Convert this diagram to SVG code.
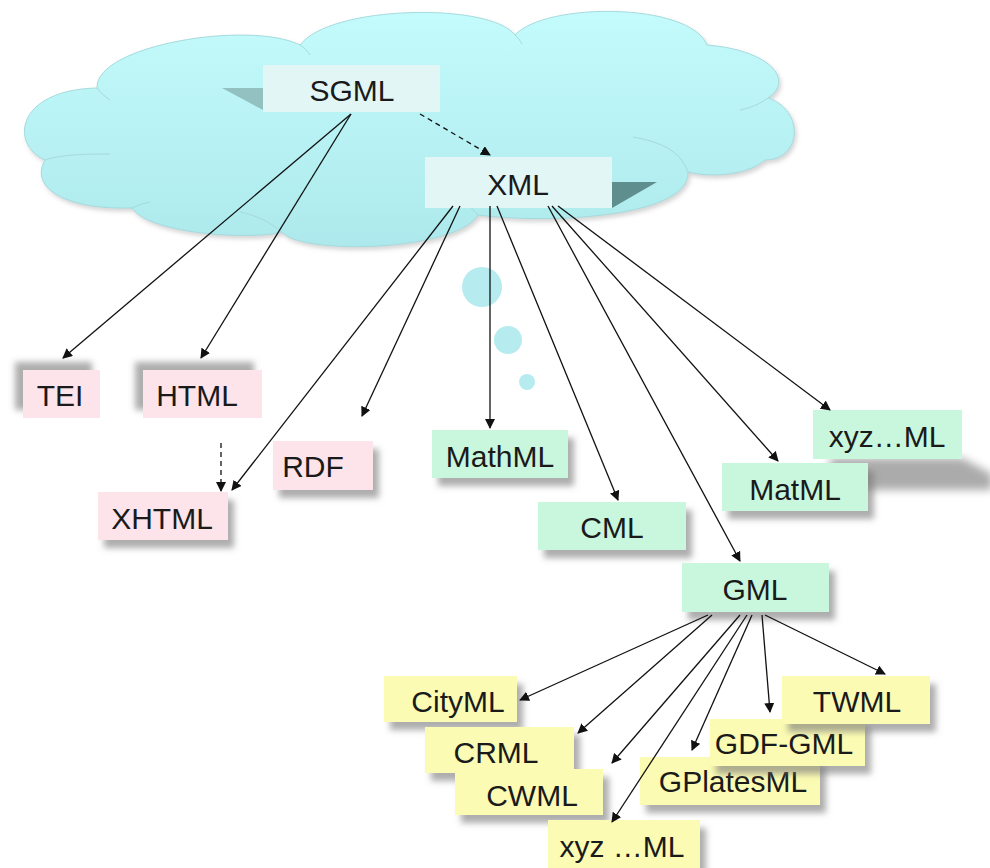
<svg xmlns="http://www.w3.org/2000/svg" width="990" height="868" viewBox="0 0 990 868">
<defs>
<linearGradient id="cg" x1="0" y1="0" x2="0" y2="1">
<stop offset="0" stop-color="#c4fbfc"/>
<stop offset="1" stop-color="#ade9ec"/>
</linearGradient>
<filter id="sh" x="-20%" y="-20%" width="150%" height="160%">
<feDropShadow dx="6" dy="8" stdDeviation="3" flood-color="#777" flood-opacity="0.6"/>
</filter>
<filter id="shul" x="-30%" y="-30%" width="150%" height="160%">
<feDropShadow dx="-8" dy="-8" stdDeviation="3" flood-color="#777" flood-opacity="0.6"/>
</filter>
<filter id="blur" x="-20%" y="-50%" width="140%" height="200%"><feGaussianBlur stdDeviation="4"/></filter>
<filter id="csh" x="-10%" y="-10%" width="120%" height="130%">
<feDropShadow dx="2" dy="3" stdDeviation="2" flood-color="#888" flood-opacity="0.35"/>
</filter>
<marker id="ah" viewBox="0 0 10 10" refX="9" refY="5" markerWidth="10" markerHeight="10" markerUnits="userSpaceOnUse" orient="auto">
<path d="M0,0 L10,5 L0,10 z" fill="#111"/>
</marker>
<style>
text{font-family:"Liberation Sans",Arial,sans-serif;font-size:30px;fill:#1a1a1a;text-anchor:middle;dominant-baseline:central}
.pk{fill:#fce4ea}
.gr{fill:#c9f7dd}
.yl{fill:#fbfbb3}
.cy{fill:#e2f6f6}
.ln{stroke:#111;stroke-width:1.3;fill:none;marker-end:url(#ah)}
.ds{stroke-dasharray:5 4}
.bub{fill:#b6ecef}
</style>
</defs>

<g id="cloud">
<path filter="url(#csh)" fill="url(#cg)" stroke="#a5dadd" stroke-width="1" d="M97,88 C95,45 250,20 300,45 C330,5 490,2 515,35 C545,2 690,2 707,45 C770,50 795,80 768,98 C805,110 802,160 765,160 C748,175 712,178 688,172 C690,215 560,225 478,215 C455,252 300,255 282,232 C255,240 150,235 132,208 C60,210 30,185 45,160 C10,145 15,90 97,88 Z"/>
<path d="M97,88 C100,92 104,96 110,100" fill="none" stroke="#a5dadd"/>
<path d="M300,45 C305,48 308,52 310,55" fill="none" stroke="#a5dadd"/>
<path d="M515,35 C518,38 520,40 522,44" fill="none" stroke="#a5dadd"/>
<path d="M768,98 C760,104 750,108 740,110" fill="none" stroke="#a5dadd"/>
<path d="M688,172 C680,150 660,142 633,137" fill="none" stroke="#a5dadd"/>
<path d="M478,215 C470,205 460,200 450,198" fill="none" stroke="#a5dadd"/>
<path d="M282,232 C270,222 255,215 240,212" fill="none" stroke="#a5dadd"/>
<path d="M132,208 C138,205 145,203 150,202" fill="none" stroke="#a5dadd"/>
<path d="M45,160 C60,155 80,154 110,154" fill="none" stroke="#a5dadd"/>
</g>

<g id="bubbles">
<circle class="bub" cx="482" cy="287" r="20"/>
<circle class="bub" cx="508" cy="340" r="14"/>
<circle class="bub" cx="527" cy="382" r="8"/>
</g>

<g id="n-sgml">
<polygon points="222,88 263,88 263,110" fill="#93c1c1"/>
<rect class="cy" x="263" y="65" width="177" height="47"/>
<text x="352" y="90">SGML</text>
</g>
<g id="n-xml">
<polygon points="612,182 657,182 612,208" fill="#5f8e8e"/>
<rect class="cy" x="425" y="157" width="187" height="51"/>
<text x="518" y="184" font-size="34">XML</text>
</g>

<g id="n-tei"><rect class="pk" x="23" y="370" width="77" height="48" filter="url(#shul)"/><text x="60" y="395">TEI</text></g>
<g id="n-html"><rect class="pk" x="143" y="370" width="119" height="48" filter="url(#shul)"/><text x="197" y="395">HTML</text></g>
<g id="n-xhtml"><rect class="pk" x="98" y="492" width="130" height="48" filter="url(#sh)"/><text x="162" y="518">XHTML</text></g>
<g id="n-rdf"><rect class="pk" x="273" y="441" width="100" height="49" filter="url(#sh)"/><text x="313" y="466">RDF</text></g>

<g id="n-mathml"><rect class="gr" x="432" y="430" width="136" height="48" filter="url(#sh)"/><text x="500" y="456">MathML</text></g>
<g id="n-cml"><rect class="gr" x="538" y="502" width="148" height="48" filter="url(#sh)"/><text x="612" y="527">CML</text></g>
<g id="n-gml"><rect class="gr" x="682" y="563" width="147" height="49" filter="url(#sh)"/><text x="755" y="589">GML</text></g>
<g id="n-xyzml">
<polygon points="830,458 962,458 992,474 992,490 830,490" fill="#888" opacity="0.7" filter="url(#blur)"/>
<rect class="gr" x="813" y="410" width="149" height="49"/><text x="887" y="436">xyz…ML</text></g>
<g id="n-matml"><rect class="gr" x="722" y="463" width="146" height="48" filter="url(#sh)"/><text x="795" y="489">MatML</text></g>

<g id="n-cityml"><rect class="yl" x="384" y="676" width="133" height="46" filter="url(#sh)"/><text x="458" y="701">CityML</text></g>
<g id="n-crml"><rect class="yl" x="425" y="727" width="149" height="46" filter="url(#sh)"/><text x="496" y="752">CRML</text></g>
<g id="n-cwml"><rect class="yl" x="455" y="769" width="148" height="46" filter="url(#sh)"/><text x="532" y="795">CWML</text></g>
<g id="n-xyz2"><rect class="yl" x="548" y="820" width="152" height="48" filter="url(#sh)"/><text x="622" y="846">xyz …ML</text></g>
<g id="n-gplates"><rect class="yl" x="640" y="757" width="180" height="48" filter="url(#sh)"/><text x="733" y="781">GPlatesML</text></g>
<g id="n-gdf"><rect class="yl" x="710" y="719" width="155" height="47" filter="url(#sh)"/><text x="784" y="743">GDF-GML</text></g>
<g id="n-twml"><rect class="yl" x="782" y="676" width="148" height="48" filter="url(#sh)"/><text x="857" y="701">TWML</text></g>

<g id="connectors">
<line class="ln ds" x1="420" y1="114" x2="490" y2="155"/>
<line class="ln" x1="351" y1="114" x2="63" y2="358"/>
<line class="ln" x1="351" y1="114" x2="201" y2="358"/>
<line class="ln" x1="453" y1="206" x2="232" y2="490"/>
<line class="ln" x1="460" y1="206" x2="362" y2="416"/>
<line class="ln" x1="490" y1="206" x2="490" y2="428"/>
<line class="ln" x1="497" y1="206" x2="618" y2="500"/>
<line class="ln" x1="548" y1="206" x2="740" y2="561"/>
<line class="ln" x1="552" y1="206" x2="778" y2="461"/>
<line class="ln" x1="558" y1="206" x2="830" y2="410"/>
<line class="ln ds" x1="221" y1="443" x2="221" y2="491"/>
<line class="ln" x1="708" y1="615" x2="520" y2="700"/>
<line class="ln" x1="712" y1="615" x2="578" y2="733"/>
<line class="ln" x1="740" y1="615" x2="612" y2="763"/>
<line class="ln" x1="747" y1="615" x2="612" y2="822"/>
<line class="ln" x1="752" y1="615" x2="692" y2="750"/>
<line class="ln" x1="762" y1="615" x2="770" y2="712"/>
<line class="ln" x1="765" y1="615" x2="885" y2="674"/>
</g>
</svg>
